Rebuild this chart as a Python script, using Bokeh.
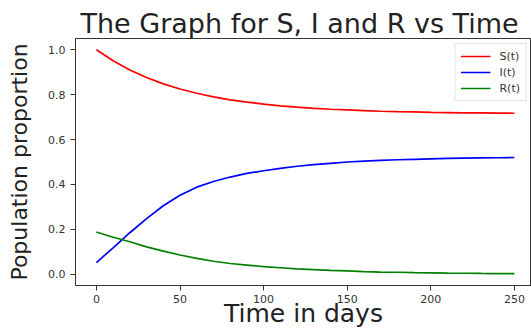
from bokeh.plotting import figure
from bokeh.models import Range1d, FixedTicker, PrintfTickFormatter, Legend, LegendItem
from bokeh.embed import file_html
from bokeh.resources import INLINE

t_days = [0, 10, 20, 30, 40, 50, 60, 70, 80, 90, 100, 110, 120, 130, 140,
          150, 160, 170, 180, 190, 200, 210, 220, 230, 240, 250]
s_vals = [1.000, 0.951, 0.910, 0.876, 0.848, 0.825, 0.806, 0.790, 0.777, 0.767,
          0.758, 0.750, 0.744, 0.739, 0.735, 0.732, 0.729, 0.726, 0.724, 0.723,
          0.721, 0.720, 0.719, 0.719, 0.718, 0.717]
i_vals = [0.052, 0.118, 0.185, 0.248, 0.305, 0.352, 0.388, 0.413, 0.433, 0.449,
          0.461, 0.472, 0.481, 0.488, 0.494, 0.500, 0.504, 0.507, 0.510, 0.512,
          0.514, 0.516, 0.517, 0.518, 0.519, 0.520]
r_vals = [0.188, 0.165, 0.145, 0.122, 0.103, 0.086, 0.071, 0.058, 0.048, 0.041,
          0.034, 0.029, 0.024, 0.021, 0.017, 0.015, 0.012, 0.010, 0.009, 0.007,
          0.006, 0.005, 0.0045, 0.0038, 0.0032, 0.0027]
series_names = ["S(t)", "I(t)", "R(t)"]
x_ticks = [0, 50, 100, 150, 200, 250]
y_ticks = [0.0, 0.2, 0.4, 0.6, 0.8, 1.0]
title_text = "The Graph for S, I and R vs Time"
x_label = "Time in days"
y_label = "Population proportion"

FONT = "DejaVu Sans"

p = figure(width=531, height=330, output_backend="svg", toolbar_location=None,
           x_range=Range1d(-12.5, 260.2), y_range=Range1d(-0.05, 1.05),
           min_border_left=75, min_border_right=0, min_border_top=38,
           min_border_bottom=45)
p.title.text = title_text
p.title.text_font = FONT
p.title.text_font_size = "27px"
p.title.text_font_style = "normal"
p.title.text_color = "#222222"
p.title.align = "left"
p.title.standoff = 0
p.title.offset = 5

p.xgrid.visible = False
p.ygrid.visible = False
p.outline_line_color = "#333333"
p.outline_line_width = 1

for ax in (p.xaxis[0], p.yaxis[0]):
    ax.axis_line_color = "#333333"
    ax.major_tick_line_color = "#333333"
    ax.major_tick_in = 0
    ax.major_tick_out = 5
    ax.minor_tick_line_color = None
    ax.major_label_text_font = FONT
    ax.major_label_text_font_size = "11px"
    ax.major_label_text_color = "#333333"
    ax.axis_label_text_font = FONT
    ax.axis_label_text_font_style = "normal"
    ax.axis_label_text_color = "#222222"

p.xaxis[0].ticker = FixedTicker(ticks=x_ticks)
p.xaxis[0].formatter = PrintfTickFormatter(format="%d")
p.xaxis[0].major_label_standoff = 4
p.xaxis[0].axis_label = x_label
p.xaxis[0].axis_label_text_font_size = "25px"
p.xaxis[0].axis_label_standoff = -7
p.yaxis[0].ticker = FixedTicker(ticks=y_ticks)
p.yaxis[0].formatter = PrintfTickFormatter(format="%.1f")
p.yaxis[0].major_label_standoff = 5
p.yaxis[0].axis_label = y_label
p.yaxis[0].axis_label_text_font_size = "22px"
p.yaxis[0].axis_label_standoff = 13

colors = ["#ff0000", "#0000ff", "#008000"]
items = []
for name, vals, c in zip(series_names, [s_vals, i_vals, r_vals], colors):
    r = p.line(t_days, vals, line_color=c, line_width=1.7)
    items.append(LegendItem(label=name, renderers=[r]))

legend = Legend(items=items, location="top_right")
legend.margin = 5
legend.padding = 5
legend.spacing = 2
legend.glyph_width = 30
legend.glyph_height = 14
legend.label_height = 14
legend.label_standoff = 9
legend.label_text_font = FONT
legend.label_text_font_size = "11px"
legend.label_text_color = "#333333"
legend.border_line_color = "#cccccc"
legend.border_line_width = 1
legend.background_fill_alpha = 0.8
p.add_layout(legend)

open("out.html", "w").write(file_html(p, INLINE))
